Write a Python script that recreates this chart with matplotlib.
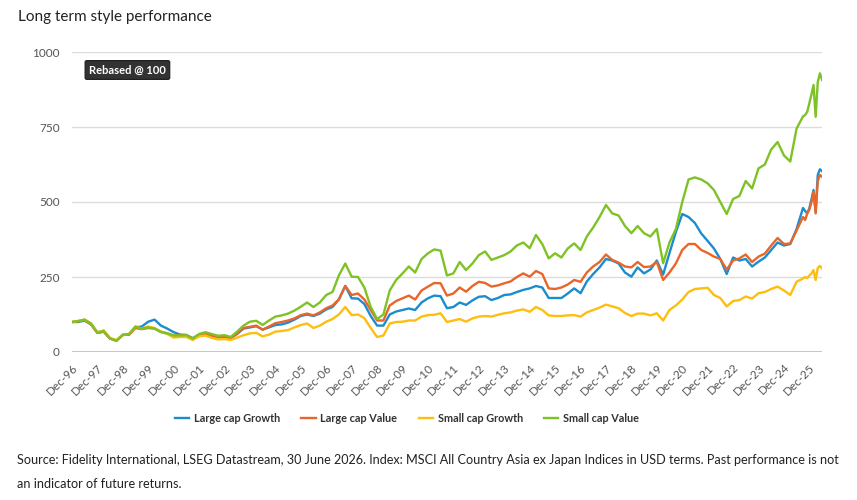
import matplotlib
matplotlib.use("Agg")
import matplotlib.pyplot as plt
import pandas as pd

# ---- data -------------------------------------------------------------
dates = list(pd.date_range("1996-12-31", "2025-09-30", freq="QE")) + \
        list(pd.date_range("2025-10-31", "2026-06-30", freq="ME"))

large_growth = [
    100, 100, 105, 92,      64, 68, 45, 38,      57, 58, 82, 85,      101, 108, 88, 78,
    66, 58, 57, 46,         58, 62, 56, 50,      52, 47, 60, 78,      82, 86, 75, 82,
    90, 92, 98, 108,        120, 125, 120, 128,  142, 150, 175, 220,  179, 178, 160, 120,
    88, 88, 125, 135,       140, 145, 140, 165,  179, 188, 186, 146,  150, 165, 157, 172,
    184, 186, 173, 180,     190, 192, 200, 207,  212, 220, 215, 180,  180, 180, 195, 212,
    196, 235, 260, 282,     310, 305, 295, 265,  251, 282, 262, 275,  305, 258, 330, 400,
    460, 450, 430, 395,     370, 345, 310, 260,  315, 305, 310, 285,  301, 315, 340, 365,
    355, 360, 410, 480,
    470, 462, 480, 510, 540, 468, 590, 609, 603,
]
large_value = [
    100, 102, 106, 92,      64, 68, 45, 38,      57, 58, 80, 76,      80, 78, 68, 62,
    55, 55, 55, 44,         58, 60, 54, 49,      50, 46, 62, 80,      84, 88, 74, 85,
    96, 100, 105, 112,      123, 128, 122, 132,  146, 155, 175, 220,  190, 195, 175, 140,
    105, 105, 155, 170,     179, 188, 175, 205,  218, 230, 229, 188,  195, 215, 201, 220,
    234, 230, 218, 222,     229, 235, 250, 262,  251, 270, 260, 212,  210, 215, 225, 240,
    234, 265, 285, 300,     325, 307, 298, 285,  282, 300, 283, 285,  300, 240, 265, 295,
    340, 360, 360, 340,     330, 318, 310, 275,  305, 312, 325, 300,  318, 328, 355, 380,
    360, 362, 405, 450,
    440, 462, 475, 500, 534, 462, 570, 590, 584,
]
small_growth = [
    100, 104, 108, 95,      66, 72, 47, 40,      58, 60, 85, 78,      85, 80, 68, 60,
    48, 50, 50, 40,         52, 55, 47, 42,      43, 40, 48, 56,      62, 64, 52, 58,
    68, 70, 73, 82,         90, 95, 80, 88,      101, 110, 125, 150,  123, 125, 113, 80,
    50, 55, 95, 100,        101, 105, 105, 118,  123, 124, 129, 100,  105, 110, 101, 112,
    118, 120, 118, 124,     129, 132, 138, 142,  134, 150, 140, 122,  120, 120, 122, 123,
    118, 132, 140, 148,     158, 152, 146, 130,  120, 128, 128, 122,  129, 105, 140, 155,
    175, 200, 210, 212,     214, 190, 180, 152,  170, 173, 185, 178,  196, 200, 210, 218,
    205, 190, 234, 245,
    250, 246, 255, 262, 273, 240, 280, 287, 279,
]
small_value = [
    100, 103, 108, 95,      64, 70, 45, 37,      57, 60, 85, 78,      82, 78, 66, 62,
    55, 55, 56, 45,         60, 66, 60, 54,      56, 50, 68, 88,      101, 104, 90, 105,
    118, 122, 128, 138,     151, 165, 150, 165,  190, 200, 255, 295,  251, 250, 215, 150,
    110, 125, 205, 240,     262, 285, 265, 310,  329, 342, 338, 255,  262, 300, 273, 295,
    323, 335, 307, 315,     323, 335, 355, 365,  346, 390, 360, 312,  329, 315, 345, 362,
    340, 385, 415, 450,     490, 462, 455, 420,  396, 420, 396, 385,  410, 296, 365, 410,
    500, 575, 582, 575,     562, 540, 500, 460,  510, 520, 570, 545,  612, 625, 675, 700,
    655, 635, 745, 785,
    790, 801, 830, 860, 890, 784, 900, 929, 907,
]

series_names = ["Large cap Growth", "Large cap Value", "Small cap Growth", "Small cap Value"]
series_colors = ["#1b8dcf", "#e8662a", "#fdbe0f", "#7ec225"]
tick_years = list(range(1996, 2026))
y_ticks = [0, 250, 500, 750, 1000]

# ---- figure -----------------------------------------------------------
plt.rcParams["font.family"] = ["Lato", "DejaVu Sans"]
fig = plt.figure(figsize=(8.57, 5.0), dpi=100)
ax = fig.add_axes([72 / 857, 148 / 500, 750 / 857, 300 / 500])

for vals, name, col in zip([large_growth, large_value, small_growth, small_value],
                           series_names, series_colors):
    ax.plot(dates, vals, color=col, lw=1.7, label=name, solid_joinstyle="round")

ax.set_xlim(dates[0], dates[-1])
ax.set_ylim(0, 1000)
ax.set_yticks(y_ticks)
ax.set_yticklabels([str(v) for v in y_ticks], color="#555555", fontsize=8.5)
ax.grid(axis="y", color="#dcdcdc", lw=1)
ax.axhline(0, color="#b5b5b5", lw=1.2, zorder=0.5)
ax.set_axisbelow(True)
for s in ax.spines.values():
    s.set_visible(False)
ax.tick_params(axis="both", length=0)
ax.tick_params(axis="y", pad=9)

xt = [pd.Timestamp(f"{y}-12-31") for y in tick_years]
ax.set_xticks(xt)
ax.set_xticklabels([f"Dec-{y % 100:02d}" for y in tick_years], rotation=45,
                   ha="right", va="top", rotation_mode="anchor",
                   color="#555555", fontsize=8.5)
ax.tick_params(axis="x", pad=7)

# title
fig.text(18 / 857, 1 - 17 / 500, "Long term style performance", fontsize=11,
         color="#222222", va="center", ha="left")

# badge
ax.text(pd.Timestamp("1997-09-01"), 940, "Rebased @ 100", fontsize=8, fontweight="bold",
        color="white", va="center", ha="left",
        bbox=dict(boxstyle="round,pad=0.35,rounding_size=0.15", fc="#333333", ec="#1a1a1a", lw=0.8))

# legend
fig.legend(loc="center", bbox_to_anchor=(407 / 857, 1 - 418 / 500), ncol=4, frameon=False,
           handlelength=1.3, handletextpad=0.45, columnspacing=1.95,
           prop={"weight": "bold", "size": 7.8})
for t in fig.legends[0].get_texts():
    t.set_color("#333333")

# footer
fig.text(17 / 857, 1 - 460 / 500,
         "Source: Fidelity International, LSEG Datastream, 30 June 2026. Index: MSCI All Country Asia ex Japan "
         "Indices in USD terms. Past performance is not",
         fontsize=9.05, color="#222222", va="center", ha="left")
fig.text(17 / 857, 1 - 484 / 500, "an indicator of future returns.",
         fontsize=9.05, color="#222222", va="center", ha="left")

fig.savefig("out.png", dpi=100)
